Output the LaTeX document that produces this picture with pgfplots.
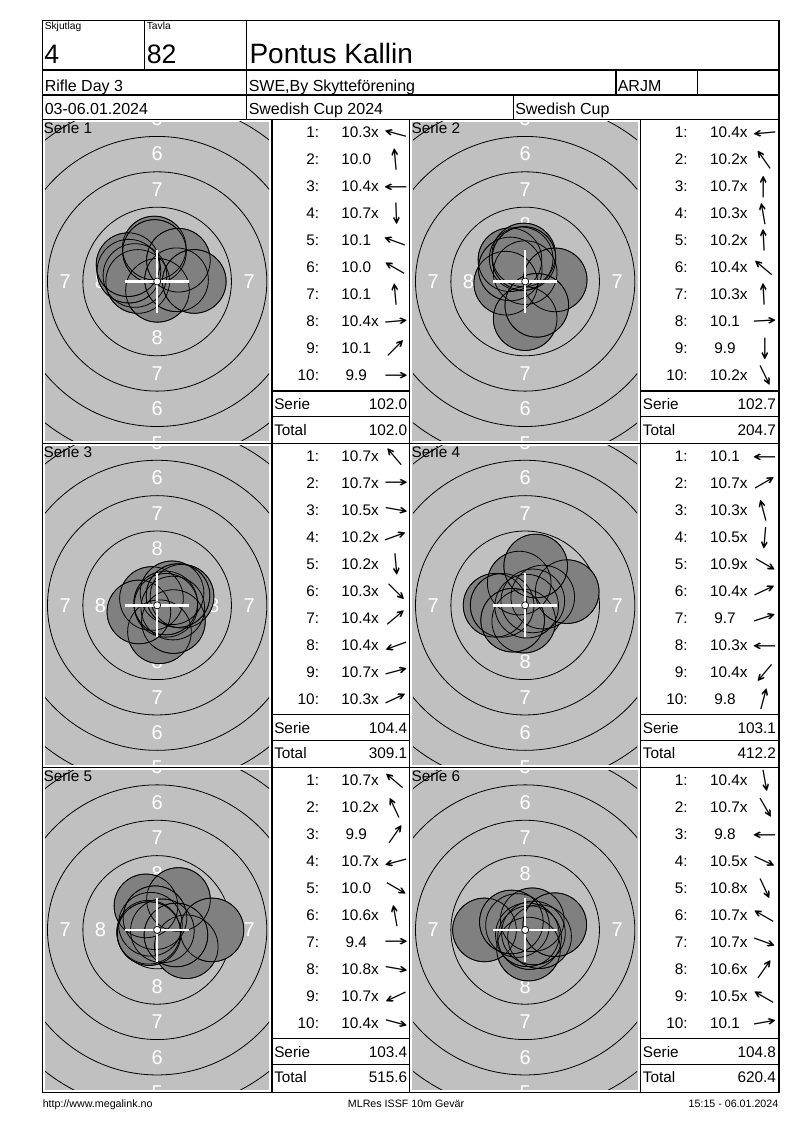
\documentclass[border=0pt]{standalone}
\usepackage{pgfplots}
\pgfplotsset{compat=1.18}
\usepackage{pgfplotstable}
\usepackage{graphicx}
\usepackage{fontspec}
\setmainfont{Liberation Sans}
\newfontfamily\arrowfont{DejaVu Sans}
\definecolor{tgray}{RGB}{192,192,192}
\definecolor{sgray}{RGB}{128,128,128}
\newcommand{\rowfont}{\fontsize{11.5}{13}\selectfont}
\newcommand{\labfont}{\fontsize{15}{16}\selectfont}

% shot centres in mm relative to target centre
\pgfplotstableread{
x y
-1.570 0.421
-0.207 2.366
-1.375 0.000
0.022 -0.625
-1.997 0.727
-2.057 1.188
-0.185 2.117
1.370 0.120
1.503 1.503
2.625 0.000
}\serA
\pgfplotstableread{
x y
-1.370 -0.120
-1.075 1.536
0.000 0.625
-0.282 1.600
-0.098 1.872
-1.053 0.884
-0.085 1.623
2.122 0.111
0.000 -2.625
0.822 -1.685
}\serB
\pgfplotstableread{
x y
-0.402 0.479
0.625 0.000
1.108 -0.195
1.762 0.641
0.163 -1.868
1.149 -1.149
1.053 0.884
-1.292 -0.470
0.604 0.162
1.473 0.687
}\serC
\pgfplotstableread{
x y
-2.125 0.000
0.541 0.313
-0.421 1.570
-0.098 -1.121
0.108 -0.063
1.246 0.581
2.972 0.966
-1.625 0.000
-0.884 -1.053
0.744 2.777
}\serD
\pgfplotstableread{
x y
-0.479 0.402
-0.792 1.699
1.506 2.150
-0.604 -0.162
2.057 -1.188
-0.152 0.862
3.875 0.000
0.369 -0.065
-0.566 -0.264
1.328 -0.356
}\serE
\pgfplotstableread{
x y
0.239 -1.354
0.313 -0.541
-2.875 0.000
1.020 -0.475
0.158 -0.340
-0.541 0.313
0.587 -0.214
0.502 0.717
-0.974 0.563
2.093 0.369
}\serF

\pgfplotsset{tgt/.style={anchor=origin, x=10.6125pt, y=10.6125pt,
  xmin=-7.92, xmax=7.92, ymin=-11.27, ymax=11.27, hide axis, clip=true}}

\newcommand{\target}[3]{%
\begin{axis}[at={(#1,#2)}, tgt]
 \draw[line width=0.6pt] (axis cs:0,0) circle[radius=2.75];
 \draw[line width=0.6pt] (axis cs:0,0) circle[radius=5.25];
 \draw[line width=0.6pt] (axis cs:0,0) circle[radius=7.75];
 \draw[line width=0.6pt] (axis cs:0,0) circle[radius=10.25];
 \draw[line width=0.6pt] (axis cs:0,0) circle[radius=12.75];
 \node[text=white, font=\labfont, inner sep=0] at (axis cs:0,4) {8};
 \node[text=white, font=\labfont, inner sep=0] at (axis cs:0,-4) {8};
 \node[text=white, font=\labfont, inner sep=0] at (axis cs:0,6.5) {7};
 \node[text=white, font=\labfont, inner sep=0] at (axis cs:0,-6.5) {7};
 \node[text=white, font=\labfont, inner sep=0] at (axis cs:0,9) {6};
 \node[text=white, font=\labfont, inner sep=0] at (axis cs:0,-9) {6};
 \node[text=white, font=\labfont, inner sep=0] at (axis cs:0,11.5) {5};
 \node[text=white, font=\labfont, inner sep=0] at (axis cs:0,-11.5) {5};
 \node[text=white, font=\labfont, inner sep=0] at (axis cs:4,0) {8};
 \node[text=white, font=\labfont, inner sep=0] at (axis cs:-4,0) {8};
 \node[text=white, font=\labfont, inner sep=0] at (axis cs:6.5,0) {7};
 \node[text=white, font=\labfont, inner sep=0] at (axis cs:-6.5,0) {7};
 \addplot[only marks, mark=*, mark size=23.88pt, mark options={draw=none, fill=sgray}] table {#3};
 \addplot[only marks, mark=o, mark size=23.88pt, mark options={draw=black, line width=0.6pt}] table {#3};
\end{axis}
\begin{axis}[at={(#1,#2)}, tgt]
 \draw[white, line width=2pt] (axis cs:-2.25,0) -- (axis cs:2.25,0);
 \draw[white, line width=2pt] (axis cs:0,-2.25) -- (axis cs:0,2.25);
 \draw[fill=white, line width=0.5pt] (axis cs:0,0) circle[radius=0.25];
\end{axis}}

\newcommand{\scores}[5]{%
 \foreach \s/\xx/\a [count=\k] in {#3} {
   \node[anchor=base east, inner sep=0, font=\rowfont] at (#1+47.3, #2+18+27*\k-27) {\k:};
   \node[anchor=base, inner sep=0, font=\rowfont] at (#1+84.3, #2+18+27*\k-27) {\s\rlap{\xx}};
   \node[rotate=\a, inner sep=0] at (#1+124, #2+13.5+27*\k-27) {\arrowfont\fontsize{11.5}{12}\selectfont\scalebox{1.9}[1]{→}};
 }
 \node[anchor=base west, inner sep=0, font=\rowfont] at (#1+2, #2+290) {Serie};
 \node[anchor=base east, inner sep=0, font=\rowfont] at (#1+135.5, #2+290) {#4};
 \node[anchor=base west, inner sep=0, font=\rowfont] at (#1+2, #2+315.5) {Total};
 \node[anchor=base east, inner sep=0, font=\rowfont] at (#1+135.5, #2+315.5) {#5};
 \draw[line width=0.9pt] (#1, #2+271.5) -- (#1+137.7, #2+271.5);
 \draw[line width=0.9pt] (#1, #2+297.2) -- (#1+137.7, #2+297.2);
}

\begin{document}
\begin{tikzpicture}
\useasboundingbox (0,0) rectangle (600pt,-847.5pt);
\begin{scope}[x=0.75pt,y=-0.75pt]
 \fill[tgray] (45,122) rectangle (269.3,440.8);
 \fill[tgray] (412,122) rectangle (638.3,440.8);
 \fill[tgray] (45,445.8) rectangle (269.3,764.8);
 \fill[tgray] (412,445.8) rectangle (638.3,764.8);
 \fill[tgray] (45,769.8) rectangle (269.3,1090);
 \fill[tgray] (412,769.8) rectangle (638.3,1090);
\end{scope}

\target{117.86pt}{-211.1pt}{\serA}
\target{393.86pt}{-211.1pt}{\serB}
\target{117.86pt}{-453.98pt}{\serC}
\target{393.86pt}{-453.98pt}{\serD}
\target{117.86pt}{-697.43pt}{\serE}
\target{393.86pt}{-697.43pt}{\serF}

\begin{scope}[x=0.75pt,y=-0.75pt]
 % frame and header
 \draw[line width=0.9pt] (42.7,20.7) rectangle (779,1092.5);
 \draw[line width=0.9pt] (42.7,70) -- (779,70);
 \draw[line width=0.9pt] (42.7,95) -- (779,95);
 \draw[line width=0.9pt] (42.7,119.5) -- (779,119.5);
 \draw[line width=0.9pt] (42.7,443.3) -- (779,443.3);
 \draw[line width=0.9pt] (42.7,767.3) -- (779,767.3);
 \draw[line width=0.9pt] (144.3,20.7) -- (144.3,70);
 \draw[line width=0.9pt] (246.7,20.7) -- (246.7,119.5);
 \draw[line width=0.9pt] (616,70) -- (616,95);
 \draw[line width=0.9pt] (697.7,70) -- (697.7,95);
 \draw[line width=0.9pt] (513.3,95) -- (513.3,119.5);
 \draw[line width=0.9pt] (272,119.5) -- (272,1092.5);
 \draw[line width=0.9pt] (409.7,119.5) -- (409.7,1092.5);
 \draw[line width=0.9pt] (640.7,119.5) -- (640.7,1092.5);

 \node[anchor=base west, inner sep=0, font=\fontsize{7.7}{9}\selectfont] at (44.5,30) {Skjutlag};
 \node[anchor=base west, inner sep=0, font=\fontsize{7.7}{9}\selectfont] at (146.5,30) {Tavla};
 \node[anchor=base west, inner sep=0, font=\fontsize{20}{22}\selectfont] at (44,63.3) {4};
 \node[anchor=base west, inner sep=0, font=\fontsize{20}{22}\selectfont] at (146.5,63.3) {82};
 \node[anchor=base west, inner sep=0, font=\fontsize{21}{23}\selectfont] at (249.3,64) {Pontus Kallin};
 \node[anchor=base west, inner sep=0, font=\fontsize{12}{14}\selectfont] at (44.5,91.2) {Rifle Day 3};
 \node[anchor=base west, inner sep=0, font=\fontsize{12}{14}\selectfont] at (248.5,91.2) {SWE,By Skytteförening};
 \node[anchor=base west, inner sep=0, font=\fontsize{12}{14}\selectfont] at (617.5,91.2) {ARJM};
 \node[anchor=base west, inner sep=0, font=\fontsize{12}{14}\selectfont] at (44.5,114.8) {03-06.01.2024};
 \node[anchor=base west, inner sep=0, font=\fontsize{12}{14}\selectfont] at (248.5,114.8) {Swedish Cup 2024};
 \node[anchor=base west, inner sep=0, font=\fontsize{12}{14}\selectfont] at (515,114.8) {Swedish Cup};

 % serie labels
 \node[anchor=base west, inner sep=0, font=\rowfont] at (43.3,134) {Serie 1};
 \node[anchor=base west, inner sep=0, font=\rowfont] at (411.3,134) {Serie 2};
 \node[anchor=base west, inner sep=0, font=\rowfont] at (43.3,457.8) {Serie 3};
 \node[anchor=base west, inner sep=0, font=\rowfont] at (411.3,457.8) {Serie 4};
 \node[anchor=base west, inner sep=0, font=\rowfont] at (43.3,781.8) {Serie 5};
 \node[anchor=base west, inner sep=0, font=\rowfont] at (411.3,781.8) {Serie 6};

 \scores{272}{119.5}{10.3/x/165, 10.0/{}/95, 10.4/x/180, 10.7/x/272, 10.1/{}/160, 10.0/{}/150, 10.1/{}/95, 10.4/x/5, 10.1/{}/45, 9.9/{}/0}{102.0}{102.0}
 \scores{640.7}{119.5}{10.4/x/185, 10.2/x/125, 10.7/x/90, 10.3/x/100, 10.2/x/93, 10.4/x/140, 10.3/x/93, 10.1/{}/3, 9.9/{}/270, 10.2/x/296}{102.7}{204.7}
 \scores{272}{443.3}{10.7/x/130, 10.7/x/0, 10.5/x/350, 10.2/x/20, 10.2/x/275, 10.3/x/315, 10.4/x/40, 10.4/x/200, 10.7/x/15, 10.3/x/25}{104.4}{309.1}
 \scores{640.7}{443.3}{10.1/{}/180, 10.7/x/30, 10.3/x/105, 10.5/x/265, 10.9/x/330, 10.4/x/25, 9.7/{}/18, 10.3/x/180, 10.4/x/230, 9.8/{}/75}{103.1}{412.2}
 \scores{272}{767.3}{10.7/x/140, 10.2/x/115, 9.9/{}/55, 10.7/x/195, 10.0/{}/330, 10.6/x/100, 9.4/{}/0, 10.8/x/350, 10.7/x/205, 10.4/x/345}{103.4}{515.6}
 \scores{640.7}{767.3}{10.4/x/280, 10.7/x/300, 9.8/{}/180, 10.5/x/335, 10.8/x/295, 10.7/x/150, 10.7/x/340, 10.6/x/55, 10.5/x/150, 10.1/{}/10}{104.8}{620.4}

 % footer
 \node[anchor=base west, inner sep=0, font=\fontsize{8}{9}\selectfont] at (42.5,1107) {http://www.megalink.no};
 \node[anchor=base west, inner sep=0, font=\fontsize{8}{9}\selectfont] at (347.7,1107) {MLRes ISSF 10m Gevär};
 \node[anchor=base east, inner sep=0, font=\fontsize{8}{9}\selectfont] at (778.5,1107) {15:15 - 06.01.2024};
\end{scope}
\end{tikzpicture}
\end{document}
